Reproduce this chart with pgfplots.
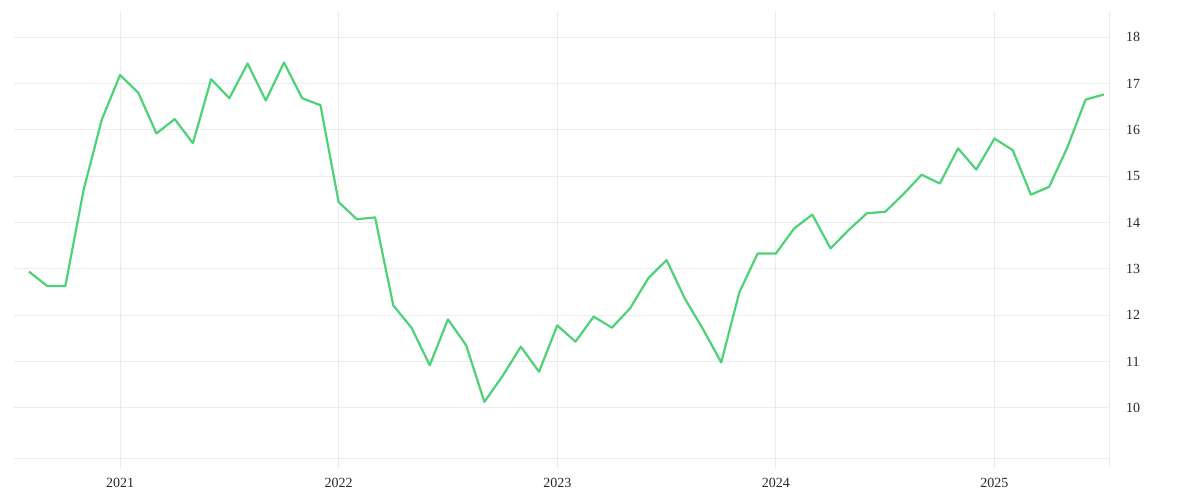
\documentclass[border=0pt]{standalone}
\usepackage{fontspec}
\setmainfont{Liberation Serif}
\usepackage{pgfplots}
\pgfplotsset{compat=1.18}
\definecolor{linegreen}{RGB}{76,211,120}
\definecolor{gridgray}{RGB}{236,236,236}
\definecolor{labelgray}{RGB}{40,40,40}
\begin{document}
\begin{tikzpicture}
\path (0,0) rectangle (1200bp,500bp);
\begin{axis}[
  at={(14bp,42bp)}, anchor=south west,
  scale only axis, width=1096bp, height=446bp,
  xmin=-5.82, xmax=54.34,
  ymin=8.92, ymax=18.54,
  axis y line*=right, axis x line*=bottom,
  axis line style={gridgray, line width=1bp},
  xtick={0,12,24,36,48},
  xticklabels={2021,2022,2023,2024,2025},
  ytick={10,11,12,13,14,15,16,17,18},
  grid=major,
  major grid style={gridgray, line width=1bp},
  major tick length=0pt,
  font=\fontsize{14bp}{16bp}\selectfont,
  tick label style={labelgray},
  xticklabel style={anchor=north, inner sep=0pt, yshift=-19.5bp},
  yticklabel style={anchor=west, inner sep=0pt, xshift=16bp},
  /pgf/number format/assume math mode=true,
  clip=false,
]
\addplot[linegreen, line width=2.2bp, line join=round] table {
x y
-5 12.94
-4 12.63
-3 12.63
-2 14.70
-1 16.22
0 17.18
1 16.80
2 15.92
3 16.23
4 15.71
5 17.09
6 16.68
7 17.43
8 16.63
9 17.45
10 16.68
11 16.53
12 14.44
13 14.07
14 14.11
15 12.21
16 11.73
17 10.92
18 11.91
19 11.35
20 10.13
21 10.69
22 11.32
23 10.78
24 11.78
25 11.43
26 11.97
27 11.73
28 12.15
29 12.80
30 13.19
31 12.36
32 11.70
33 10.98
34 12.50
35 13.33
36 13.33
37 13.87
38 14.17
39 13.44
40 13.84
41 14.20
42 14.23
43 14.61
44 15.03
45 14.84
46 15.60
47 15.14
48 15.81
49 15.56
50 14.60
51 14.77
52 15.62
53 16.65
54 16.76
};
\draw[gridgray, line width=1bp] (axis cs:0,8.92) -- (axis cs:0,8.70);
\draw[gridgray, line width=1bp] (axis cs:12,8.92) -- (axis cs:12,8.70);
\draw[gridgray, line width=1bp] (axis cs:24,8.92) -- (axis cs:24,8.70);
\draw[gridgray, line width=1bp] (axis cs:36,8.92) -- (axis cs:36,8.70);
\draw[gridgray, line width=1bp] (axis cs:48,8.92) -- (axis cs:48,8.70);
\draw[gridgray, line width=1bp] (axis cs:54.34,8.92) -- (axis cs:54.34,8.72);
\end{axis}
\end{tikzpicture}
\end{document}
